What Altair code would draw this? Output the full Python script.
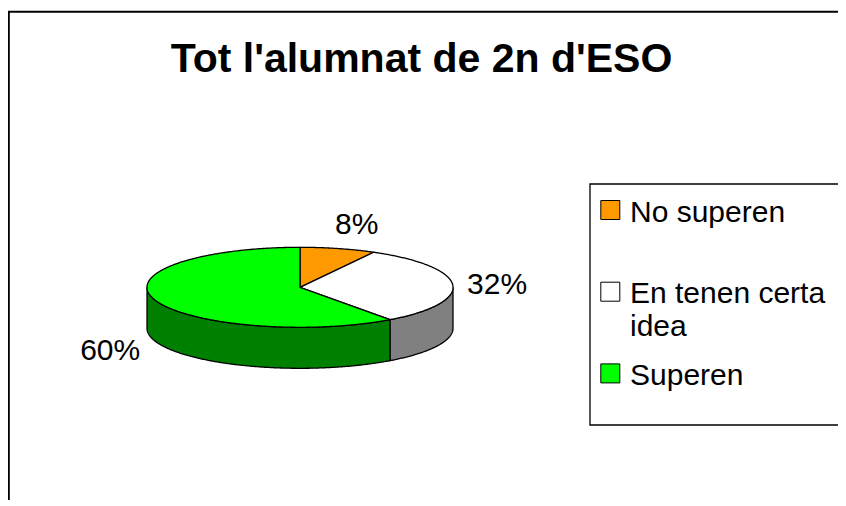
import numpy as np
import pandas as pd
import altair as alt

# ---------------- data ----------------
TITLE = "Tot l'alumnat de 2n d'ESO"
CATEGORIES = ["No superen", "En tenen certa idea", "Superen"]
LEGEND_LABELS = ["No superen", "En tenen certa\nidea", "Superen"]
VALUES = [8, 32, 60]

# ---------------- styles / layout ----------------
TOP_COLORS = ["#FF9900", "#FFFFFF", "#00FF00"]
SIDE_COLORS = ["#804C00", "#808080", "#008000"]
FONT = "Liberation Sans"

W, H = 830, 492
CX, CY, RX, RY, DEPTH = 292.0, 279.3, 153.0, 40.0, 41.0
LX, LY, LSKEW = 197.0, 66.0, 8.0

xs = alt.Scale(domain=[0, W], nice=False, zero=False)
ys = alt.Scale(domain=[0, H], nice=False, zero=False, reverse=True)


def ex(a):
    return CX + RX * np.sin(np.radians(a))


def ey(a):
    return CY - RY * np.cos(np.radians(a))


total = float(sum(VALUES))
bounds = np.cumsum([0] + VALUES) / total * 360.0

top_pieces = []   # (df, color)
side_pieces = []
label_rows = []
for k, cat in enumerate(CATEGORIES):
    a0, a1 = bounds[k], bounds[k + 1]
    n = max(int((a1 - a0) * 2), 6)
    angs = np.linspace(a0, a1, n)
    pts = [(CX, CY)] + [(ex(a), ey(a)) for a in angs]
    top_pieces.append((pd.DataFrame({"i": range(len(pts)),
                                     "x": [p[0] for p in pts],
                                     "y": [p[1] for p in pts]}), TOP_COLORS[k]))
    b0, b1 = max(a0, 90.0), min(a1, 270.0)
    if b1 > b0:
        angs = np.linspace(b0, b1, max(int((b1 - b0) * 2), 6))
        pts = [(ex(a), ey(a)) for a in angs] + [(ex(a), ey(a) + DEPTH) for a in angs[::-1]]
        side_pieces.append((pd.DataFrame({"i": range(len(pts)),
                                          "x": [p[0] for p in pts],
                                          "y": [p[1] for p in pts]}), SIDE_COLORS[k]))
    mid = np.radians((a0 + a1) / 2)
    lx = CX + LX * np.sin(mid) + LSKEW * np.cos(mid)
    ly = CY - LY * np.cos(mid) + (DEPTH if np.cos(mid) < 0 else 0.0)
    label_rows.append({"text": f"{VALUES[k]}%", "x": lx, "y": ly})

layers = []

one = pd.DataFrame({"a": [0]})

# frame (top and left border)
layers.append(alt.Chart(one).mark_rule(color="black", strokeWidth=2).encode(
    x=alt.value(0), x2=alt.value(W + 10), y=alt.value(3.7)))
layers.append(alt.Chart(one).mark_rule(color="black", strokeWidth=2).encode(
    x=alt.value(0.8), y=alt.value(3.7), y2=alt.value(H + 10)))

# pie sides then top faces
for df, col in side_pieces + top_pieces:
    layers.append(alt.Chart(df).mark_line(interpolate="linear-closed", fill=col,
                                          stroke="black", strokeWidth=1.3).encode(
        x=alt.X("x:Q", scale=xs, axis=None),
        y=alt.Y("y:Q", scale=ys, axis=None),
        order=alt.Order("i:Q")))

# percentage labels
layers.append(alt.Chart(pd.DataFrame(label_rows)).mark_text(
    font=FONT, fontSize=30, align="center", baseline="alphabetic", dy=11, color="black").encode(
    x=alt.X("x:Q", scale=xs, axis=None),
    y=alt.Y("y:Q", scale=ys, axis=None),
    text="text:N"))

# title
layers.append(alt.Chart(pd.DataFrame({"t": [TITLE]})).mark_text(
    font=FONT, fontSize=41, fontWeight="bold", align="center", baseline="alphabetic",
    color="black").encode(x=alt.value(413.5), y=alt.value(64.3), text="t:N"))

# legend box
layers.append(alt.Chart(one).mark_rect(fill="white", stroke="black", strokeWidth=1.3).encode(
    x=alt.value(582), x2=alt.value(W + 20), y=alt.value(176), y2=alt.value(417)))

leg = pd.DataFrame({"cat": CATEGORIES, "label": LEGEND_LABELS, "idx": range(len(CATEGORIES))})
leg_base = alt.Chart(leg).transform_calculate(ly="202 + datum.idx * 81.7")
layers.append(leg_base.mark_square(size=361, stroke="black", strokeWidth=1, opacity=1).encode(
    x=alt.value(602.3),
    y=alt.Y("ly:Q", scale=ys, axis=None),
    fill=alt.Fill("cat:N", scale=alt.Scale(domain=CATEGORIES, range=TOP_COLORS), legend=None)))
layers.append(leg_base.mark_text(font=FONT, fontSize=30, align="left", baseline="alphabetic",
                                 dy=11.7, lineBreak="\n", lineHeight=32.7, color="black").encode(
    x=alt.value(622),
    y=alt.Y("ly:Q", scale=ys, axis=None),
    text="label:N"))

chart = alt.layer(*layers).properties(
    width=W, height=H, padding=0, background="white",
    autosize=alt.AutoSizeParams(type="none"),
).configure_view(stroke=None)

chart.save("out.html", embed_options={"renderer": "svg", "actions": False})
